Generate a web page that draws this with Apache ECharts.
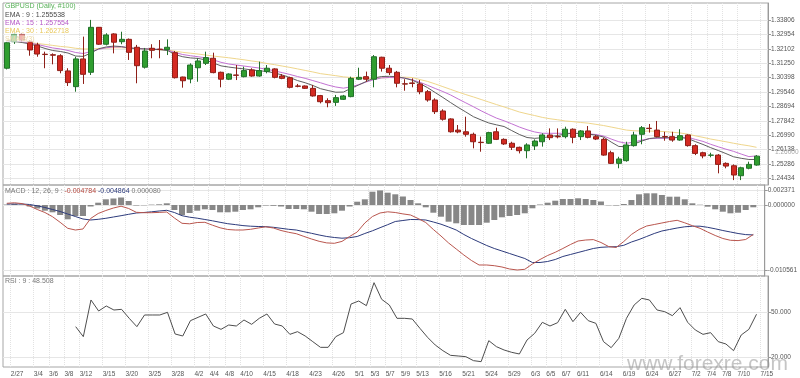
<!DOCTYPE html>
<html>
<head>
<meta charset="utf-8">
<title>GBPUSD Daily</title>
<script src="https://cdn.jsdelivr.net/npm/echarts@6.0.0/dist/echarts.min.js"></script>
<style>
  html, body { margin: 0; padding: 0; background: #fff; }
  #chart { width: 800px; height: 378px; }
</style>
</head>
<body>
<div id="chart"></div>
<script>
// trading days shown on the chart
const dates = [
  '2/27','2/28','3/1','3/4','3/5','3/6','3/7','3/8','3/11','3/12','3/13','3/14','3/15','3/18','3/19','3/20','3/21','3/22',
  '3/25','3/26','3/27','3/28','3/29','4/1','4/2','4/3','4/4','4/5','4/8','4/9','4/10','4/11','4/12','4/15','4/16','4/17',
  '4/18','4/19','4/22','4/23','4/24','4/25','4/26','4/29','4/30','5/1','5/2','5/3','5/6','5/7','5/8','5/9','5/10','5/13',
  '5/14','5/15','5/16','5/17','5/20','5/21','5/22','5/23','5/24','5/27','5/28','5/29','5/30','5/31','6/3','6/4','6/5','6/6',
  '6/7','6/10','6/11','6/12','6/13','6/14','6/17','6/18','6/19','6/20','6/21','6/24','6/25','6/26','6/27','6/28','7/1','7/2',
  '7/3','7/4','7/5','7/8','7/9','7/10','7/11','7/12','7/15'
];

// dates that get a label on the bottom axis
const labelDates = ['2/27','3/4','3/6','3/8','3/12','3/15','3/20','3/25','3/28','4/2','4/4','4/8','4/10','4/15','4/18',
  '4/23','4/26','5/1','5/3','5/7','5/9','5/13','5/16','5/21','5/24','5/29','6/3','6/5','6/7','6/11','6/14','6/19','6/24',
  '6/27','7/2','7/4','7/8','7/10','7/15'];

// [open, close, low, high]
const candles = [
  [1.3095,1.3246,1.3088,1.3252],[1.3252,1.3296,1.3239,1.3301],[1.3296,1.3262,1.3253,1.3304],[1.3252,1.3203,1.3169,1.3262],
  [1.3233,1.3179,1.3163,1.3246],[1.3178,1.3176,1.3095,1.3193],[1.3175,1.3172,1.3118,1.3183],[1.3169,1.3081,1.3065,1.3178],
  [1.3079,1.3010,1.2990,1.3095],[1.2986,1.3150,1.2956,1.3163],[1.3150,1.3059,1.3002,1.3282],[1.3071,1.3337,1.3055,1.3381],
  [1.3337,1.3237,1.3233,1.3339],[1.3237,1.3292,1.3230,1.3302],[1.3298,1.3249,1.3183,1.3302],[1.3252,1.3266,1.3237,1.3311],
  [1.3266,1.3189,1.3144,1.3271],[1.3219,1.3110,1.3006,1.3233],[1.3101,1.3197,1.3093,1.3215],[1.3213,1.3201,1.3154,1.3237],
  [1.3208,1.3206,1.3154,1.3262],[1.3205,1.3219,1.3173,1.3266],[1.3187,1.3039,1.3034,1.3197],[1.3043,1.3021,1.2980,1.3045],
  [1.3031,1.3114,1.3006,1.3124],[1.3098,1.3138,1.3015,1.3154],[1.3124,1.3158,1.3114,1.3193],[1.3154,1.3069,1.3065,1.3187],
  [1.3071,1.3030,1.2982,1.3075],[1.3030,1.3061,1.3025,1.3065],[1.3055,1.3053,1.3025,1.3114],[1.3045,1.3081,1.3041,1.3104],
  [1.3085,1.3049,1.3045,1.3095],[1.3049,1.3081,1.3045,1.3134],[1.3075,1.3095,1.3065,1.3114],[1.3091,1.3041,1.3035,1.3095],
  [1.3049,1.3035,1.3030,1.3061],[1.3039,1.2982,1.2976,1.3045],[1.2990,1.2988,1.2982,1.3002],[1.2990,1.2976,1.2972,1.2993],
  [1.2976,1.2931,1.2927,1.2996],[1.2933,1.2897,1.2887,1.2937],[1.2903,1.2891,1.2864,1.2917],[1.2893,1.2921,1.2872,1.2937],
  [1.2911,1.2931,1.2907,1.2937],[1.2927,1.3035,1.2923,1.3045],[1.3030,1.3041,1.3025,1.3098],[1.3045,1.3030,1.3015,1.3075],
  [1.3030,1.3163,1.2982,1.3173],[1.3160,1.3095,1.3075,1.3163],[1.3095,1.3069,1.3055,1.3114],[1.3071,1.3006,1.2982,1.3079],
  [1.3003,1.3001,1.2962,1.3030],[1.3008,1.3005,1.2982,1.3035],[1.3002,1.2956,1.2941,1.3025],[1.2956,1.2907,1.2897,1.2966],
  [1.2907,1.2838,1.2824,1.2917],[1.2842,1.2793,1.2785,1.2852],[1.2795,1.2719,1.2714,1.2799],[1.2729,1.2718,1.2710,1.2759],
  [1.2719,1.2704,1.2690,1.2808],[1.2704,1.2660,1.2621,1.2714],[1.2657,1.2655,1.2601,1.2690],[1.2651,1.2714,1.2647,1.2719],
  [1.2719,1.2674,1.2670,1.2743],[1.2674,1.2647,1.2641,1.2680],[1.2651,1.2627,1.2611,1.2660],[1.2627,1.2607,1.2591,1.2631],
  [1.2607,1.2641,1.2562,1.2651],[1.2635,1.2664,1.2611,1.2674],[1.2660,1.2700,1.2631,1.2710],[1.2700,1.2684,1.2670,1.2739],
  [1.2691,1.2689,1.2680,1.2739],[1.2690,1.2734,1.2680,1.2749],[1.2734,1.2686,1.2651,1.2739],[1.2690,1.2724,1.2670,1.2729],
  [1.2724,1.2686,1.2680,1.2753],[1.2690,1.2676,1.2670,1.2700],[1.2674,1.2581,1.2577,1.2684],[1.2595,1.2532,1.2528,1.2607],
  [1.2532,1.2558,1.2503,1.2571],[1.2548,1.2641,1.2542,1.2660],[1.2637,1.2700,1.2631,1.2719],[1.2704,1.2743,1.2645,1.2753],
  [1.2740,1.2738,1.2714,1.2765],[1.2729,1.2690,1.2686,1.2783],[1.2691,1.2689,1.2666,1.2719],[1.2690,1.2670,1.2660,1.2719],
  [1.2670,1.2696,1.2666,1.2734],[1.2700,1.2637,1.2631,1.2704],[1.2637,1.2591,1.2581,1.2645],[1.2595,1.2576,1.2562,1.2601],
  [1.2580,1.2581,1.2568,1.2595],[1.2581,1.2526,1.2473,1.2587],[1.2532,1.2516,1.2503,1.2538],[1.2518,1.2463,1.2433,1.2526],
  [1.2459,1.2506,1.2433,1.2512],[1.2503,1.2526,1.2497,1.2542],[1.2522,1.25748,1.2518,1.2581]
];

const ema9 = [
  1.3258,1.3253,1.3247,1.3239,1.3227,1.3212,1.3200,1.3194,1.3185,1.3167,
  1.3165,1.3185,1.3210,1.3221,1.3226,1.3223,1.3215,1.3211,1.3209,1.3207,
  1.3205,1.3200,1.3176,1.3163,1.3156,1.3153,1.3144,1.3126,1.3109,1.3102,
  1.3096,1.3091,1.3085,1.3080,1.3076,1.3067,1.3055,1.3040,1.3022,1.3009,
  1.2993,1.2974,1.2963,1.2953,1.2954,1.2976,1.2996,1.3017,1.3037,1.3046,
  1.3047,1.3045,1.3036,1.3024,1.3004,1.2980,1.2951,1.2922,1.2892,1.2863,
  1.2836,1.2808,1.2789,1.2771,1.2760,1.2750,1.2726,1.2703,1.2685,1.2680,
  1.2684,1.2690,1.2697,1.2706,1.2710,1.2709,1.2706,1.2699,1.2688,1.2658,
  1.2632,1.2631,1.2647,1.2664,1.2679,1.2684,1.2684,1.2684,1.2685,1.2679,
  1.2661,1.2644,1.2625,1.2608,1.2590,1.2571,1.2562,1.2555,1.2555
];

const ema15 = [
  1.3258,1.3255,1.3252,1.3244,1.3236,1.3225,1.3215,1.3209,1.3200,1.3188,
  1.3182,1.3194,1.3207,1.3216,1.3221,1.3221,1.3216,1.3212,1.3210,1.3209,
  1.3207,1.3203,1.3188,1.3176,1.3169,1.3163,1.3156,1.3144,1.3130,1.3120,
  1.3114,1.3108,1.3102,1.3096,1.3089,1.3079,1.3069,1.3058,1.3046,1.3035,
  1.3022,1.3009,1.2995,1.2984,1.2977,1.2985,1.2998,1.3014,1.3028,1.3038,
  1.3040,1.3039,1.3037,1.3027,1.3012,1.2994,1.2975,1.2957,1.2937,1.2913,
  1.2890,1.2867,1.2843,1.2821,1.2800,1.2784,1.2766,1.2747,1.2731,1.2718,
  1.2710,1.2710,1.2710,1.2710,1.2710,1.2709,1.2706,1.2703,1.2694,1.2676,
  1.2660,1.2651,1.2658,1.2670,1.2678,1.2680,1.2680,1.2683,1.2687,1.2685,
  1.2674,1.2662,1.2645,1.2630,1.2616,1.2603,1.2587,1.2572,1.2576
];

const ema30 = [
  1.3265,1.3259,1.3253,1.3247,1.3241,1.3236,1.3230,1.3224,1.3220,1.3213,
  1.3209,1.3209,1.3212,1.3214,1.3216,1.3216,1.3214,1.3212,1.3210,1.3207,
  1.3204,1.3202,1.3196,1.3189,1.3184,1.3179,1.3173,1.3167,1.3162,1.3157,
  1.3151,1.3145,1.3138,1.3132,1.3123,1.3116,1.3108,1.3100,1.3091,1.3082,
  1.3073,1.3063,1.3057,1.3051,1.3044,1.3040,1.3037,1.3035,1.3035,1.3038,
  1.3040,1.3040,1.3042,1.3040,1.3028,1.3017,1.3002,1.2986,1.2970,1.2954,
  1.2939,1.2925,1.2910,1.2895,1.2880,1.2866,1.2851,1.2836,1.2825,1.2815,
  1.2804,1.2796,1.2790,1.2783,1.2779,1.2774,1.2770,1.2763,1.2756,1.2747,
  1.2738,1.2729,1.2725,1.2723,1.2723,1.2722,1.2720,1.2716,1.2712,1.2705,
  1.2695,1.2686,1.2676,1.2668,1.2660,1.2651,1.2643,1.2636,1.2627
];

const macd = [
  0.000276,0.000358,0.000228,-0.000163,-0.000731,-0.001219,-0.001901,-0.002811,-0.003786,-0.004063,
  -0.003900,-0.002194,-0.001381,-0.000894,-0.000488,-0.000195,-0.000569,-0.001186,-0.001251,-0.001251,
  -0.001203,-0.001138,-0.002113,-0.002974,-0.003055,-0.002844,-0.002811,-0.003283,-0.003705,-0.003981,
  -0.004063,-0.004063,-0.003949,-0.003738,-0.003543,-0.003738,-0.004144,-0.004436,-0.004664,-0.005103,
  -0.005525,-0.005899,-0.006159,-0.006224,-0.005915,-0.005119,-0.004388,-0.002925,-0.001869,-0.001300,
  -0.001105,-0.001219,-0.001446,-0.001625,-0.002194,-0.002844,-0.003981,-0.005038,-0.006175,-0.007150,
  -0.008125,-0.009019,-0.009750,-0.009750,-0.009864,-0.010075,-0.010400,-0.010561,-0.010449,-0.009588,
  -0.008856,-0.008206,-0.007686,-0.007069,-0.006419,-0.005850,-0.005688,-0.005623,-0.006094,-0.006744,
  -0.006906,-0.005931,-0.004794,-0.003981,-0.003413,-0.003169,-0.002925,-0.002681,-0.002486,-0.002893,
  -0.003364,-0.003786,-0.004388,-0.004956,-0.005444,-0.005736,-0.005785,-0.005606,-0.004784
];

const signal = [
  0.000163,0.000163,0.000163,0.000081,-0.000130,-0.000406,-0.000731,-0.001056,-0.001463,-0.001869,
  -0.002275,-0.002438,-0.002324,-0.002161,-0.001950,-0.001739,-0.001511,-0.001300,-0.001219,-0.001105,
  -0.000975,-0.000861,-0.001219,-0.001739,-0.001983,-0.002145,-0.002356,-0.002568,-0.002811,-0.003039,
  -0.003185,-0.003348,-0.003445,-0.003494,-0.003526,-0.003624,-0.003786,-0.003949,-0.004063,-0.004339,
  -0.004599,-0.004875,-0.005119,-0.005281,-0.005395,-0.005314,-0.005119,-0.004631,-0.004193,-0.003689,
  -0.003201,-0.002681,-0.002519,-0.002356,-0.002373,-0.002438,-0.002763,-0.003120,-0.003575,-0.004063,
  -0.004794,-0.005444,-0.006013,-0.006581,-0.007069,-0.007475,-0.007881,-0.008288,-0.008694,-0.009344,
  -0.009344,-0.009181,-0.008856,-0.008369,-0.008044,-0.007719,-0.007394,-0.007069,-0.006874,-0.006809,
  -0.006776,-0.006549,-0.006013,-0.005606,-0.005119,-0.004631,-0.004225,-0.003981,-0.003738,-0.003543,
  -0.003445,-0.003445,-0.003624,-0.003868,-0.004144,-0.004388,-0.004631,-0.004810,-0.004864
];

const hist = [
  0.000081,0.000163,0.000065,-0.000244,-0.000569,-0.000926,-0.001186,-0.001625,-0.002324,-0.001788,
  -0.001788,-0.000244,0.000374,0.000926,0.001056,0.001219,0.000650,-0.000081,-0.000049,0.000065,
  0.000114,0.000276,-0.000813,-0.001625,-0.001300,-0.000926,-0.000699,-0.000813,-0.001186,-0.001186,
  -0.001089,-0.000813,-0.000699,-0.000374,-0.000081,-0.000130,-0.000244,-0.000650,-0.000650,-0.000699,
  -0.001089,-0.001463,-0.001463,-0.001349,-0.000926,-0.000244,0.000536,0.000926,0.002161,0.002371,
  0.001999,0.001739,0.001381,0.000813,0.000276,-0.000374,-0.001251,-0.001901,-0.002714,-0.002974,
  -0.003250,-0.003250,-0.003250,-0.002876,-0.002438,-0.001999,-0.001788,-0.001625,-0.001349,-0.000536,
  0.000081,0.000374,0.000699,0.000975,0.000975,0.001089,0.000975,0.000813,0.000569,-0.000049,
  -0.000081,0.000163,0.000813,0.001739,0.001901,0.001901,0.001625,0.001349,0.001349,0.000926,
  0.000276,0.000049,-0.000276,-0.000699,-0.001089,-0.001349,-0.001251,-0.000813,-0.000374
];

const rsi = [
  null,null,null,null,null,null,null,null,null,
  40.22,33.56,58.00,50.67,54.00,51.33,51.78,45.78,40.22,48.00,
  48.00,48.00,49.78,35.33,34.00,44.22,46.44,48.67,40.67,38.44,
  41.33,40.67,44.67,41.78,45.78,48.67,42.00,40.67,35.11,36.89,
  34.00,30.22,26.44,26.44,33.56,36.22,55.33,57.33,54.22,69.56,
  58.44,54.67,45.78,45.78,45.33,39.11,33.11,28.00,24.22,21.11,
  20.67,20.22,17.56,16.89,30.89,26.89,24.67,23.11,22.00,31.33,
  35.78,43.11,40.67,42.89,51.78,43.56,49.78,44.22,42.44,30.22,
  26.22,32.44,45.78,54.67,59.11,58.00,51.33,50.22,47.56,52.89,
  43.11,38.00,35.11,36.22,30.22,28.67,24.22,34.67,38.44,48.51
];

// tick labels on the right-hand axes
const priceTicks = [1.33806,1.32954,1.32102,1.31250,1.30398,1.29546,1.28694,1.27842,1.26990,1.26138,1.25286,1.24434];
const macdTicks = [0.002371, 0, -0.010561];
const rsiTicks = [50, 20];

const FONT = 'Liberation Sans, Arial, sans-serif';
const labelSet = new Set(labelDates);
const lastClose = candles[candles.length - 1][1];

const chart = echarts.init(document.getElementById('chart'));

// one x axis per panel, only the bottom one shows dates
const makeX = (gridIndex, showLabel) => ({
  type: 'category',
  gridIndex: gridIndex,
  data: dates.concat(['']),
  boundaryGap: true,
  axisLine: { show: false },
  axisTick: { show: false },
  axisLabel: {
    show: showLabel,
    interval: (i, v) => labelSet.has(v),
    fontFamily: FONT,
    fontSize: 6.5,
    color: '#555',
    align: 'left',
    padding: [0, 0, 0, 4],
    margin: 4
  },
  splitLine: {
    show: true,
    interval: (i) => i > 0 && labelSet.has(dates[i - 1]),
    lineStyle: { color: '#e2e2e2', type: 'dotted', width: 1 }
  }
});

const makeY = (gridIndex, min, max, ticks, digits) => ({
  type: 'value',
  gridIndex: gridIndex,
  position: 'right',
  min: min,
  max: max,
  axisLine: { show: true, lineStyle: { color: '#9a9a9a' } },
  axisTick: { show: true, length: 3, customValues: ticks, lineStyle: { color: '#9a9a9a' } },
  axisLabel: {
    customValues: ticks,
    formatter: (v) => Number(v).toFixed(digits),
    fontFamily: FONT,
    fontSize: 6.5,
    color: '#555',
    margin: 3
  },
  splitLine: { show: true, lineStyle: { color: '#e6e6e6', width: 1 } }
});

const lineSeries = (name, x, y, data, color) => ({
  name: name,
  type: 'line',
  xAxisIndex: x,
  yAxisIndex: y,
  data: data,
  symbol: 'none',
  smooth: false,
  connectNulls: false,
  lineStyle: { color: color, width: 1 },
  z: 2
});

const legendText = (y, text, color) => ({
  type: 'text',
  x: 5,
  y: y,
  z: 100,
  style: {
    text: text,
    fill: color,
    font: '7px ' + FONT,
    verticalAlign: 'middle',
    backgroundColor: 'rgba(255,255,255,0.65)'
  }
});

const option = {
  animation: false,
  backgroundColor: '#fff',
  grid: [
    { left: 3, right: 32, top: 3, height: 182, show: true, borderColor: '#a6a6a6', borderWidth: 1 },
    { left: 3, right: 32, top: 185, height: 91, show: true, borderColor: '#a6a6a6', borderWidth: 1 },
    { left: 3, right: 32, top: 276, height: 91, show: true, borderColor: '#a6a6a6', borderWidth: 1 }
  ],
  xAxis: [makeX(0, false), makeX(1, false), makeX(2, true)],
  yAxis: [
    makeY(0, 1.2404, 1.3481, priceTicks, 5),
    makeY(1, -0.011538, 0.00325, macdTicks, 6),
    makeY(2, 13.33, 74, rsiTicks, 3)
  ],
  series: [
    lineSeries('EMA 30', 0, 0, ema30, '#efd68c'),
    lineSeries('EMA 15', 0, 0, ema15, '#c372d3'),
    lineSeries('EMA 9', 0, 0, ema9, '#5f5f5f'),
    {
      name: 'GBPUSD',
      type: 'candlestick',
      xAxisIndex: 0,
      yAxisIndex: 0,
      data: candles,
      barWidth: 5.5,
      z: 3,
      itemStyle: {
        color: '#2f9e2f',
        color0: '#d42a22',
        borderColor: '#22702a',
        borderColor0: '#8e1f18',
        borderWidth: 1
      },
      // last close shown next to the price axis
      markLine: {
        silent: true,
        symbol: ['none', 'none'],
        data: [{ yAxis: lastClose }],
        lineStyle: { color: 'rgba(0,0,0,0)', width: 1, type: 'solid' },
        label: {
          show: true,
          position: 'end',
          distance: 7,
          formatter: (p) => Number(p.value).toFixed(5),
          fontFamily: FONT,
          fontSize: 6.5,
          color: '#a8a8a8'
        }
      }
    },
    {
      name: 'MACD hist',
      type: 'bar',
      xAxisIndex: 1,
      yAxisIndex: 1,
      data: hist,
      barWidth: 6,
      itemStyle: { color: '#878787' },
      z: 1
    },
    lineSeries('Signal', 1, 1, signal, '#2d3b7c'),
    lineSeries('MACD', 1, 1, macd, '#b9564e'),
    lineSeries('RSI', 2, 2, rsi, '#4e4e4e')
  ],
  graphic: [
    legendText(6.5, 'GBPUSD (Daily, #100)', '#58b158'),
    legendText(14.7, 'EMA : 9 : 1.255538', '#4a4a4a'),
    legendText(22.9, 'EMA : 15 : 1.257554', '#b556c6'),
    legendText(31.1, 'EMA : 30 : 1.262718', '#e8c75a'),
    legendText(38.6, 'SMA 8(3)', '#ead9a8'),
    {
      type: 'text',
      x: 5,
      y: 190.7,
      z: 100,
      style: {
        text: '{a|MACD : 12, 26, 9 :} {b|-0.004784} {c|-0.004864} {a|0.000080}',
        font: '7px ' + FONT,
        verticalAlign: 'middle',
        rich: {
          a: { fill: '#777', font: '7px ' + FONT },
          b: { fill: '#b4453c', font: '7px ' + FONT },
          c: { fill: '#2d3b7c', font: '7px ' + FONT }
        }
      }
    },
    {
      type: 'text',
      x: 5,
      y: 281,
      z: 100,
      style: { text: 'RSI : 9 : 48.508', fill: '#777', font: '7px ' + FONT, verticalAlign: 'middle' }
    },
    {
      type: 'text',
      x: 627,
      y: 364,
      z: 100,
      style: {
        text: 'www.forexre.com',
        fill: 'rgba(150,150,150,0.55)',
        font: '21px ' + FONT,
        verticalAlign: 'middle'
      }
    }
  ]
};

chart.setOption(option);
window.addEventListener('resize', () => chart.resize());
</script>
</body>
</html>
